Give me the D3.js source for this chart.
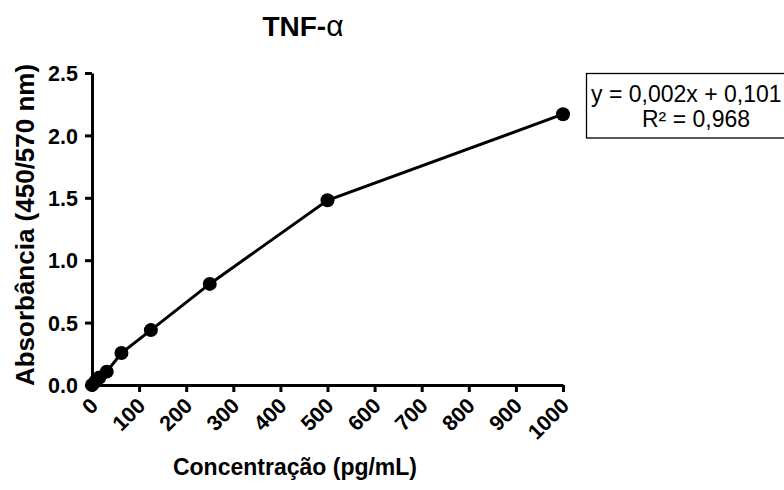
<!DOCTYPE html>
<html>
<head>
<meta charset="utf-8">
<script src="https://cdn.jsdelivr.net/npm/d3@7"></script>
<style>
  html, body { margin: 0; padding: 0; background: #fff; }
  svg { display: block; }
  text { font-family: "Liberation Sans", Arial, sans-serif; fill: #000; }
</style>
</head>
<body>
<svg id="chart" width="784" height="490"></svg>
<script>
// Standard curve: TNF-α concentration vs absorbance
const concentrations = [0, 7.8, 15.6, 31.25, 62.5, 125, 250, 500, 1000];
const absorbance = [0.0, 0.03, 0.06, 0.107, 0.256, 0.44, 0.81, 1.48, 2.17];
const xTicks = [0, 100, 200, 300, 400, 500, 600, 700, 800, 900, 1000];
const yTicks = [0.0, 0.5, 1.0, 1.5, 2.0, 2.5];
const equationLines = ["y = 0,002x + 0,101", "R² = 0,968"];

const svg = d3.select("#chart");
const plotLeft = 92, plotRight = 563, plotTop = 73, plotBottom = 385;

const x = d3.scaleLinear().domain([0, 1000]).range([plotLeft, plotRight]);
const y = d3.scaleLinear().domain([0, 2.5]).range([plotBottom, plotTop]);

// Y axis
const yAxis = svg.append("g")
  .attr("transform", `translate(${plotLeft},0)`)
  .call(d3.axisLeft(y).tickValues(yTicks).tickFormat(d3.format(".1f")).tickSize(7).tickSizeOuter(0));
yAxis.select(".domain").attr("stroke-width", 3).attr("stroke", "#000");
yAxis.selectAll(".tick line").attr("stroke-width", 3).attr("stroke", "#000");
yAxis.selectAll(".tick text")
  .attr("x", -14).attr("dy", "0.36em")
  .style("font-size", "21.5px").style("font-weight", "bold");

// X axis
const xAxis = svg.append("g")
  .attr("transform", `translate(0,${plotBottom})`)
  .call(d3.axisBottom(x).tickValues(xTicks).tickFormat(d3.format("d")).tickSize(7).tickSizeOuter(0));
xAxis.select(".domain").attr("stroke-width", 3).attr("stroke", "#000");
xAxis.selectAll(".tick line").attr("stroke-width", 3).attr("stroke", "#000");
xAxis.selectAll(".tick text")
  .attr("y", 0).attr("dy", 0)
  .attr("text-anchor", "end")
  .attr("transform", "translate(7,22) rotate(-45)")
  .style("font-size", "21.5px").style("font-weight", "bold");

// Connecting line
const line = d3.line().x((d, i) => x(concentrations[i])).y(d => y(d));
svg.append("path")
  .datum(absorbance)
  .attr("d", line)
  .attr("fill", "none")
  .attr("stroke", "#000")
  .attr("stroke-width", 3);

// Points
svg.selectAll("circle.pt")
  .data(absorbance)
  .join("circle")
  .attr("class", "pt")
  .attr("cx", (d, i) => x(concentrations[i]))
  .attr("cy", d => y(d))
  .attr("r", 7)
  .attr("fill", "#000");

// Title
const title = svg.append("text")
  .attr("x", 303).attr("y", 36)
  .attr("text-anchor", "middle")
  .style("font-size", "28px");
title.append("tspan").style("font-weight", "bold").text("TNF-");
title.append("tspan").style("font-size", "30px").text("α");

// Axis titles
svg.append("text")
  .attr("x", 295).attr("y", 475)
  .attr("text-anchor", "middle")
  .style("font-size", "23px").style("font-weight", "bold")
  .text("Concentração (pg/mL)");

svg.append("text")
  .attr("transform", "translate(34,225) rotate(-90)")
  .attr("text-anchor", "middle")
  .style("font-size", "26px").style("font-weight", "bold")
  .text("Absorbância (450/570 nm)");

// Equation box
svg.append("rect")
  .attr("x", 586.5).attr("y", 73.5)
  .attr("width", 210).attr("height", 64.5)
  .attr("fill", "#fff").attr("stroke", "#000").attr("stroke-width", 1.3);
svg.append("text")
  .attr("x", 591).attr("y", 102)
  .style("font-size", "23px")
  .text(equationLines[0]);
svg.append("text")
  .attr("x", 696).attr("y", 127)
  .attr("text-anchor", "middle")
  .style("font-size", "23px")
  .text(equationLines[1]);
</script>
</body>
</html>
